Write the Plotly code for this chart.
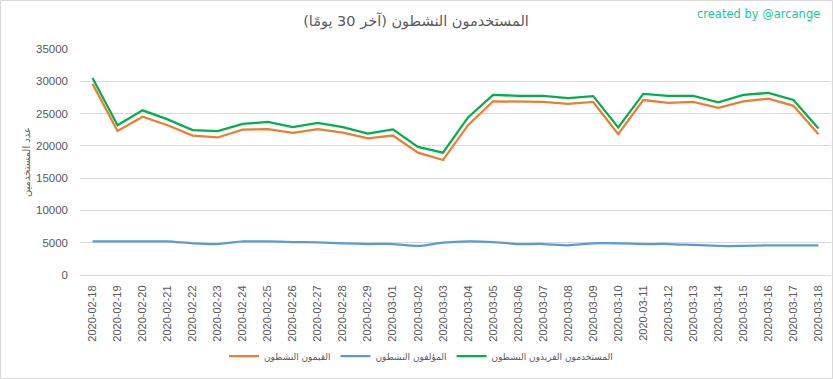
import plotly.graph_objects as go

dates = ["2020-02-18", "2020-02-19", "2020-02-20", "2020-02-21", "2020-02-22", "2020-02-23",
         "2020-02-24", "2020-02-25", "2020-02-26", "2020-02-27", "2020-02-28", "2020-02-29",
         "2020-03-01", "2020-03-02", "2020-03-03", "2020-03-04", "2020-03-05", "2020-03-06",
         "2020-03-07", "2020-03-08", "2020-03-09", "2020-03-10", "2020-03-11", "2020-03-12",
         "2020-03-13", "2020-03-14", "2020-03-15", "2020-03-16", "2020-03-17", "2020-03-18"]

curators = [29600, 22300, 24500, 23200, 21600, 21300, 22500, 22600, 22000, 22600, 22050, 21150,
            21600, 18950, 17800, 23200, 26900, 26800, 26800, 26500, 26800, 21800, 27100, 26650,
            26800, 25900, 26900, 27300, 26200, 21800]

authors = [5200, 5200, 5200, 5200, 4900, 4800, 5200, 5200, 5100, 5050, 4900, 4800,
           4800, 4500, 5000, 5200, 5100, 4800, 4800, 4600, 4900, 4900, 4800, 4800,
           4650, 4500, 4500, 4600, 4600, 4600]

unique_users = [30500, 23200, 25500, 24100, 22450, 22300, 23400, 23700, 22900, 23550, 22900, 21900,
                22550, 19850, 18950, 24400, 27900, 27750, 27750, 27400, 27700, 22850, 28050, 27750,
                27750, 26750, 27900, 28200, 27100, 22700]

y_ticks = [0, 5000, 10000, 15000, 20000, 25000, 30000, 35000]
y_tick_labels = ["0", "5000", "10000", "15000", "20000", "25000", "30000", "35000"]

name_curators = "القيمون النشطون"
name_authors = "المؤلفون النشطون"
name_unique = "المستخدمون الفريدون النشطون"
title_text = "المستخدمون النشطون (آخر 30 يومًا)"
y_title = "عدد المستخدمين"
credit = "created by @arcange"

W, H = 833, 379
ml, mr, mt, mb = 80, 2, 49, 104
pw, ph = W - ml - mr, H - mt - mb

fig = go.Figure()
fig.add_trace(go.Scatter(x=dates, y=curators, name=name_curators, mode="lines",
                         line=dict(color="#ED7D31", width=2.25)))
fig.add_trace(go.Scatter(x=dates, y=authors, name=name_authors, mode="lines",
                         line=dict(color="#5B9BD5", width=2.25, shape="spline", smoothing=0.6)))
fig.add_trace(go.Scatter(x=dates, y=unique_users, name=name_unique, mode="lines",
                         line=dict(color="#00B050", width=2.25)))

fig.update_layout(
    width=W, height=H,
    margin=dict(l=ml, r=mr, t=mt, b=mb, autoexpand=False),
    paper_bgcolor="white", plot_bgcolor="white",
    font=dict(family="Liberation Sans, DejaVu Sans, Arial", color="#595959", size=11),
    title=dict(text=title_text, x=416 / W, xanchor="center", xref="container",
               y=1 - 21 / H, yanchor="middle", yref="container",
               font=dict(size=14.5, color="#595959", family="DejaVu Sans, Arial")),
    showlegend=True,
    legend=dict(orientation="h", x=(421 - ml) / pw, xanchor="center",
                y=(mt + ph - 356) / ph, yanchor="middle",
                font=dict(size=9, color="#595959", family="DejaVu Sans, Arial"),
                itemwidth=30, tracegroupgap=0, bgcolor="rgba(0,0,0,0)"),
    xaxis=dict(type="category", range=[-0.5, len(dates) - 0.5], showgrid=False,
               showline=True, linecolor="#D9D9D9", linewidth=1, ticks="",
               tickangle=-90, tickfont=dict(size=11, color="#595959"), zeroline=False,
               automargin=False, ticklabelstandoff=5),
    yaxis=dict(range=[0, 35000], tickvals=y_ticks, ticktext=y_tick_labels,
               showgrid=True, gridcolor="#D9D9D9",
               gridwidth=1, zeroline=False, showline=False, ticks="",
               tickfont=dict(size=11.5, color="#595959"), automargin=False,
               ticklabelstandoff=11,
               title=dict(text=y_title, font=dict(size=10, color="#595959", family="DejaVu Sans, Arial"),
                          standoff=3)),
    annotations=[dict(text=credit, xref="paper", yref="paper",
                      x=(W - 11 - ml) / pw, y=(H - 14 - mb) / ph, xanchor="right", yanchor="middle",
                      showarrow=False, font=dict(size=11.5, color="#14C99A",
                                                 family="DejaVu Sans, Arial"))],
    shapes=[dict(type="rect", xref="paper", yref="paper",
                 x0=(0.5 - ml) / pw, x1=(W - 0.5 - ml) / pw,
                 y0=(0.5 - mb) / ph, y1=(H - 0.5 - mb) / ph,
                 line=dict(color="#D9D9D9", width=1), layer="below")],
)

fig.write_html("out.html", config={"displayModeBar": False},
               post_script="document.body.style.margin='0';document.body.style.overflow='hidden';")
